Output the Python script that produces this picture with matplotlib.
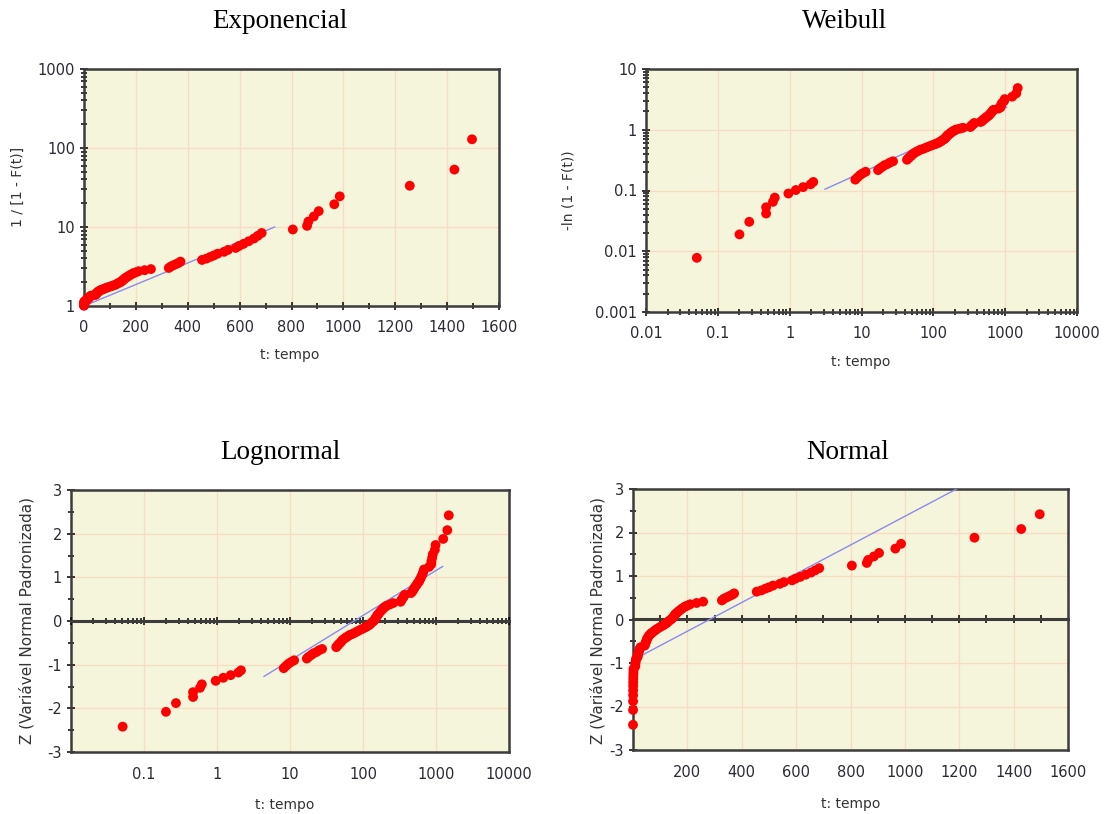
import math
import numpy as np
import matplotlib
matplotlib.use('Agg')
import matplotlib.pyplot as plt
from matplotlib.ticker import MultipleLocator, NullFormatter

plt.rcParams['axes.unicode_minus'] = False
plt.rcParams['font.family'] = 'DejaVu Sans'

# failure times (sorted)
tempo = [0.051, 0.20, 0.274, 0.47, 0.47, 0.585, 0.62, 0.96, 1.22, 1.54, 1.96, 2.13,
         8.2, 8.8, 9.5, 10.3, 11.4,
         17, 18, 19.5, 21, 23, 25, 27.5,
         43, 44.5, 46, 48, 50, 52, 55, 58, 62, 66, 71, 77, 83, 90, 98, 106, 112,
         120, 126, 131, 137,
         142, 146, 150, 153, 157, 161, 166, 172, 178, 185, 192, 200, 210, 234, 258,
         327, 335, 345, 355, 365, 372,
         455, 472, 487, 500, 515, 540, 555, 585, 598, 615, 635, 655, 670, 685,
         805, 860, 865, 886, 905, 965, 986, 1256, 1428, 1496]

# standardized normal variable Z of each point (normal / lognormal panels)
z = [-2.42, -2.08, -1.88, -1.74, -1.63, -1.53, -1.45, -1.37, -1.30, -1.24,
     -1.18, -1.13, -1.08, -1.03, -0.98, -0.94, -0.90, -0.86, -0.82, -0.78,
     -0.74, -0.71, -0.67, -0.64, -0.60, -0.57, -0.54, -0.51, -0.48, -0.44,
     -0.41, -0.38, -0.35, -0.32, -0.30, -0.27, -0.24, -0.21, -0.18, -0.15,
     -0.13, -0.10, -0.07, -0.04, -0.01, 0.01, 0.04, 0.07, 0.10, 0.13,
     0.15, 0.18, 0.21, 0.24, 0.27, 0.30, 0.32, 0.35, 0.38, 0.41,
     0.44, 0.48, 0.51, 0.54, 0.57, 0.60, 0.64, 0.67, 0.71, 0.74,
     0.78, 0.82, 0.86, 0.90, 0.94, 0.98, 1.03, 1.08, 1.13, 1.18,
     1.24, 1.30, 1.37, 1.45, 1.53, 1.63, 1.74, 1.88, 2.08, 2.42]

# fitted lines, end points
exp_fit_t = [0, 735]
exp_fit_y = [1, 10]
weib_fit_t = [3.1, 1050]
weib_fit_y = [0.105, 2.35]
logn_fit_t = [4.4, 1235]
logn_fit_z = [-1.27, 1.25]
norm_fit_t = [0, 1190]
norm_fit_z = [-0.93, 3.0]

F = [0.5 * (1 + math.erf(v / math.sqrt(2))) for v in z]
inv_surv = [1 / (1 - f) for f in F]
cum_haz = [-math.log(1 - f) for f in F]

BG = '#f5f5dc'
GRID = '#f8dcc2'
FRAME = '#3c3c3c'
TXT = '#2a2a35'
RED = '#ff0000'
LINE = '#8a8af0'

W, H = 1107, 814
fig = plt.figure(figsize=(W / 100, H / 100), dpi=100)


def make_axes(l, t, r, b):
    ax = fig.add_axes([l / W, 1 - b / H, (r - l) / W, (b - t) / H])
    ax.set_facecolor(BG)
    for s in ax.spines.values():
        s.set_color(FRAME)
        s.set_linewidth(1.8)
    ax.tick_params(which='both', direction='inout', color='black', width=1.1,
                   labelsize=10.5, labelcolor=TXT)
    ax.tick_params(which='major', length=6)
    ax.tick_params(which='minor', length=4)
    ax.grid(True, which='major', color=GRID, lw=1)
    ax.set_axisbelow(True)
    return ax


def zero_line(ax):
    sec = ax.secondary_xaxis(0.5)
    sec.set_zorder(2.6)
    sec.patch.set_visible(False)
    for s in sec.spines.values():
        s.set_color(FRAME)
        s.set_linewidth(2.2)
    sec.tick_params(which='both', direction='inout', color='black', width=1.1,
                    labeltop=False, labelbottom=False)
    sec.tick_params(which='major', length=6)
    sec.tick_params(which='minor', length=4)
    sec.xaxis.set_minor_formatter(NullFormatter())
    return sec


def points(ax, x, y):
    ax.scatter(x, y, s=50, color=RED, edgecolors='none', zorder=4, clip_on=False)


# Exponencial
ax1 = make_axes(84, 69, 499, 306)
ax1.set_yscale('log')
ax1.set_xlim(0, 1600)
ax1.set_ylim(1, 1000)
ax1.set_xticks(range(0, 1601, 200))
ax1.set_xticks(range(100, 1600, 200), minor=True)
ax1.set_yticks([1, 10, 100, 1000], labels=['1', '10', '100', '1000'])
ax1.yaxis.set_minor_formatter(NullFormatter())
ax1.tick_params(axis='x', pad=7)
ax1.plot(exp_fit_t, exp_fit_y, color=LINE, lw=1, zorder=3)
points(ax1, tempo, inv_surv)

# Weibull
ax2 = make_axes(646, 69, 1077, 312)
ax2.set_xscale('log')
ax2.set_yscale('log')
ax2.set_xlim(0.01, 10000)
ax2.set_ylim(0.001, 10)
ax2.set_xticks([0.01, 0.1, 1, 10, 100, 1000, 10000],
               labels=['0.01', '0.1', '1', '10', '100', '1000', '10000'])
ax2.set_yticks([0.001, 0.01, 0.1, 1, 10],
               labels=['0.001', '0.01', '0.1', '1', '10'])
ax2.xaxis.set_minor_formatter(NullFormatter())
ax2.yaxis.set_minor_formatter(NullFormatter())
ax2.tick_params(axis='x', pad=7)
ax2.plot(weib_fit_t, weib_fit_y, color=LINE, lw=1, zorder=3)
points(ax2, tempo, cum_haz)

# Lognormal
ax3 = make_axes(71, 490, 509, 752)
ax3.set_xscale('log')
ax3.set_xlim(0.01, 10000)
ax3.set_ylim(-3, 3)
ax3.set_xticks([0.01, 0.1, 1, 10, 100, 1000, 10000],
               labels=['', '0.1', '1', '10', '100', '1000', '10000'])
ax3.xaxis.set_minor_formatter(NullFormatter())
ax3.yaxis.set_major_locator(MultipleLocator(1))
ax3.yaxis.set_minor_locator(MultipleLocator(0.5))
ax3.tick_params(axis='x', which='both', length=0, pad=11)
zero_line(ax3)
ax3.plot(logn_fit_t, logn_fit_z, color=LINE, lw=1, zorder=3)
points(ax3, tempo, z)

# Normal
ax4 = make_axes(633, 489, 1068, 750)
ax4.set_xlim(0, 1600)
ax4.set_ylim(-3, 3)
ax4.set_xticks(range(0, 1601, 200),
               labels=[''] + [str(v) for v in range(200, 1601, 200)])
ax4.yaxis.set_major_locator(MultipleLocator(1))
ax4.yaxis.set_minor_locator(MultipleLocator(0.5))
ax4.tick_params(axis='x', which='both', length=0, pad=11)
sec4 = zero_line(ax4)
sec4.set_xticks(np.arange(100, 1600, 100))
ax4.plot(norm_fit_t, norm_fit_z, color=LINE, lw=1, zorder=3)
points(ax4, tempo, z)

# titles and axis labels
title_kw = dict(family='Liberation Serif', fontsize=19.5, ha='center', va='center', color='black')
fig.text(280 / W, 1 - 22 / H, 'Exponencial', **title_kw)
fig.text(845 / W, 1 - 22 / H, 'Weibull', **title_kw)
fig.text(280 / W, 1 - 452 / H, 'Lognormal', **title_kw)
fig.text(848 / W, 1 - 452 / H, 'Normal', **title_kw)

lab_kw = dict(fontsize=10, ha='center', va='center', color='#333333')
fig.text(290 / W, 1 - 355 / H, 't: tempo', **lab_kw)
fig.text(861 / W, 1 - 362 / H, 't: tempo', **lab_kw)
fig.text(285 / W, 1 - 805 / H, 't: tempo', **lab_kw)
fig.text(851 / W, 1 - 804 / H, 't: tempo', **lab_kw)
fig.text(18 / W, 1 - 187 / H, '1 / [1 - F(t)]', rotation=90, **lab_kw)
fig.text(569 / W, 1 - 190 / H, '-ln (1 - F(t))', rotation=90, **lab_kw)
zkw = dict(lab_kw, fontsize=11)
fig.text(27 / W, 1 - 620 / H, 'Z (Variável Normal Padronizada)', rotation=90, **zkw)
fig.text(598 / W, 1 - 620 / H, 'Z (Variável Normal Padronizada)', rotation=90, **zkw)

fig.savefig('out.png', dpi=100)
